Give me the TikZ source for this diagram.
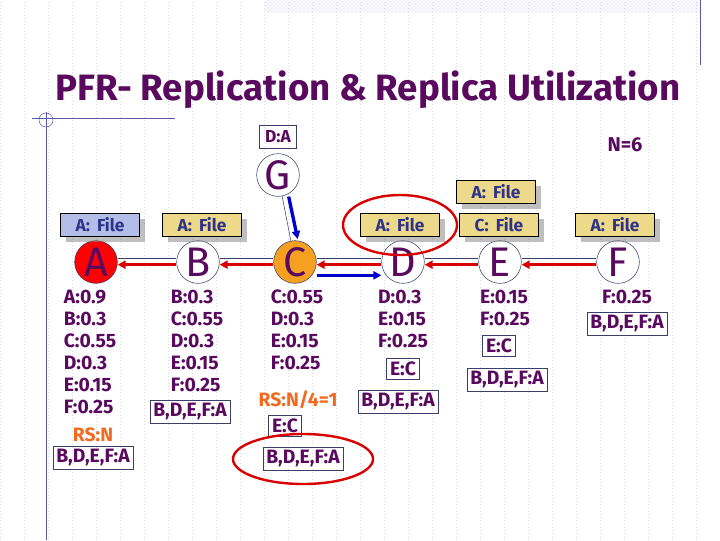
\documentclass[tikz,border=0pt]{standalone}
\usepackage{fontspec}
\setmainfont{Fira Sans}
\usetikzlibrary{arrows.meta,patterns,shadows}
\definecolor{pur}{HTML}{5A0A5E}
\definecolor{orng}{HTML}{F06A20}
\definecolor{tagblue}{HTML}{B4BCE8}
\definecolor{tagyel}{HTML}{ECD98A}
\definecolor{cfill}{HTML}{F5A020}
\definecolor{gridc}{HTML}{D8DCE4}
\definecolor{frame}{HTML}{3A3F6A}
\tikzset{
 peer/.style={circle,draw=frame,thin,minimum size=32pt,inner sep=0pt,font=\fontsize{31}{31}\selectfont,text=pur},
 tag/.style={draw=black,thin,minimum width=59pt,minimum height=17pt,inner sep=0pt,font=\bfseries\fontsize{13}{13}\selectfont,text=frame!80!blue,drop shadow={shadow xshift=4pt,shadow yshift=-4pt,fill=gray}},
 lbl/.style={font=\bfseries\fontsize{14.5}{16.5}\selectfont,text=pur,inner sep=1pt},
 boxl/.style={lbl,draw=frame,inner sep=2.5pt},
 rs/.style={font=\bfseries\fontsize{14.5}{15}\selectfont,text=orng,inner sep=1pt},
 redarr/.style={draw=red!85!black,line width=2.2pt,-{Triangle[length=6pt,width=6pt]}},
 bluearr/.style={draw=blue!80!black,line width=2.5pt,-{Triangle[length=6pt,width=6pt]}},
}
\begin{document}
\begin{tikzpicture}[x=0.75pt,y=-0.75pt]
\useasboundingbox (0,0) rectangle (720,540);
\fill[white] (0,0) rectangle (720,540);
\draw[gridc,dotted] (0,0) grid[step=24] (720,540);
\fill[pattern=crosshatch dots,pattern color=blue!30] (265,0) rectangle (700,12);
\draw[blue!30!gray] (700,0) -- (700,65);
\draw[blue!30!gray] (32,118) -- (175,118);
\draw[blue!30!gray] (46,112) -- (46,540);
\draw[blue!30!gray] (46,120) circle (7);
\node[font=\bfseries\fontsize{27.5}{28}\selectfont,text=pur] (title) at (368,90) {PFR- Replication \& Replica Utilization};
% peers
\node[peer,fill=red] (A) at (96,262) {A};
\node[peer,fill=white] (B) at (198,262) {B};
\node[peer,fill=cfill] (C) at (295,262) {C};
\node[peer,fill=white] (D) at (403,262) {D};
\node[peer,fill=white] (E) at (500,262) {E};
\node[peer,fill=white] (F) at (618,262) {F};
\node[peer,fill=white] (G) at (278,175) {G};
% thin links
\draw[frame,thin] ([yshift=3]A.east) -- ([yshift=3]B.west) ([yshift=3]B.east) -- ([yshift=3]C.west) ([yshift=3]C.east) -- ([yshift=3]D.west) ([yshift=3]D.east) -- ([yshift=3]E.west) ([yshift=3]E.east) -- ([yshift=3]F.west);
\draw[frame,thin] (G) -- (C);
% arrows
\draw[redarr] ([yshift=-2]B.west) -- ([yshift=-2]A.east);
\draw[redarr] ([yshift=-2]C.west) -- ([yshift=-2]B.east);
\draw[redarr] ([yshift=-2]D.west) -- ([yshift=-2]C.east);
\draw[redarr] ([yshift=-2]E.west) -- ([yshift=-2]D.east);
\draw[redarr] ([yshift=-2]F.west) -- ([yshift=-2]E.east);
\draw[bluearr] ([yshift=-10]C.east) -- ([yshift=-10]D.west);
\draw[bluearr] ([xshift=8]G.south) -- ([xshift=2,yshift=1]C.north);
% tags
\node[tag,fill=tagblue] (tA) at (100,225) {A:\, File};
\node[tag,fill=tagyel] (tB) at (202,225) {A:\, File};
\node[tag,fill=tagyel] (tD) at (400,225) {A:\, File};
\node[tag,fill=tagyel] (tE2) at (496,192) {A:\, File};
\node[tag,fill=tagyel] (tE) at (499,225) {C:\, File};
\node[tag,fill=tagyel] (tF) at (615,225) {A:\, File};
\draw[red!85!black,line width=1.8pt] (tD) ellipse (57 and 30);
\node[boxl,inner sep=4pt,font=\bfseries\fontsize{13}{13}\selectfont] (DA) at (278,137) {D:A};
\node[lbl,font=\bfseries\fontsize{15}{15}\selectfont] (N) at (625,145) {N=6};
% column A
\node[lbl,align=left,anchor=north] (la) at (90,288) {A:0.9\\B:0.3\\C:0.55\\D:0.3\\E:0.15\\F:0.25};
\node[rs] (rsa) at (93,435) {RS:N};
\node[boxl] (ba) at (93,458) {B,D,E,F:A};
% column B
\node[lbl,align=left,anchor=north] (lb) at (197,288) {B:0.3\\C:0.55\\D:0.3\\E:0.15\\F:0.25};
\node[boxl] (bb) at (190,412) {B,D,E,F:A};
% column C
\node[lbl,align=left,anchor=north] (lc) at (297,288) {C:0.55\\D:0.3\\E:0.15\\F:0.25};
\node[rs] (rsc) at (298,400) {RS:N/4=1};
\node[boxl] (ec) at (285,426) {E:C};
\node[boxl] (bc) at (303,459) {B,D,E,F:A};
\draw[red!85!black,line width=1.8pt] (bc) ellipse (70 and 25);
% column D
\node[lbl,align=left,anchor=north] (ld) at (403,288) {D:0.3\\E:0.15\\F:0.25};
\node[boxl] (ed) at (403,369) {E:C};
\node[boxl] (bd) at (398,402) {B,D,E,F:A};
% column E
\node[lbl,align=left,anchor=north] (le) at (505,288) {E:0.15\\F:0.25};
\node[boxl] (ee) at (499,346) {E:C};
\node[boxl] (be) at (507,380) {B,D,E,F:A};
% column F
\node[lbl] (lf) at (627,297) {F:0.25};
\node[boxl] (bf) at (627,324) {B,D,E,F:A};
\end{tikzpicture}
\end{document}
